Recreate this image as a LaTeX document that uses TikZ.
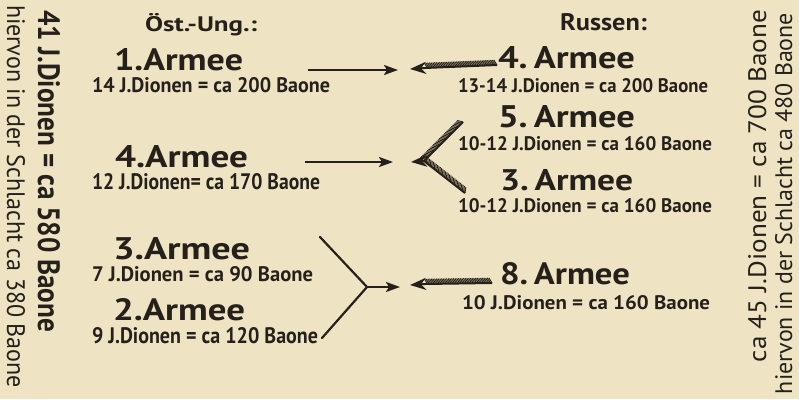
\documentclass[tikz,border=0pt]{standalone}
\usepackage{fontspec}
\setmainfont{PT Sans}
\usepackage{graphicx}
\usetikzlibrary{arrows.meta,decorations.pathreplacing}
\definecolor{paper}{RGB}{238,228,196}
\definecolor{ink}{RGB}{38,32,26}
\newcommand{\fitbox}[3]{\resizebox{#1pt}{#2pt}{#3}}
\begin{document}
\begin{tikzpicture}[x=1pt,y=-1pt,
  txt/.style={inner sep=0pt, outer sep=0pt, text=ink, anchor=base west},
  aarrow/.style={draw=ink, line width=2.2pt, -{Stealth[length=14pt,width=10pt,inset=3pt]}},
  aline/.style={draw=ink, line width=2.2pt, line cap=round},
  rshaft/.style={draw=ink, line width=2pt,
    postaction={draw=ink, line width=0.9pt, decorate,
      decoration={border, segment length=1.7pt, amplitude=6pt, angle=-60}}},
  rhead/.style={draw=ink, line width=2pt, -{Stealth[length=16pt,width=12pt,inset=5pt]}}
]
\fill[paper] (0,0) rectangle (799,399);

% headers
\node[txt] (hl) at (145,31) {\fitbox{112}{18}{\bfseries Öst.-Ung.:}};
\node[txt] (hr) at (560,30) {\fitbox{87}{17}{\bfseries Russen:}};

% left column
\node[txt] (l1) at (114,70) {\fitbox{129}{22}{\bfseries 1.Armee}};
\node[txt] (l1s) at (92,92) {\fitbox{238}{15}{\bfseries 14 J.Dionen = ca 200 Baone}};
\node[txt] (l4) at (115,167) {\fitbox{133}{22}{\bfseries 4.Armee}};
\node[txt] (l4s) at (92,189) {\fitbox{228}{16}{\bfseries 12 J.Dionen= ca 170 Baone}};
\node[txt] (l3) at (113,259) {\fitbox{137}{22}{\bfseries 3.Armee}};
\node[txt] (l3s) at (92,281) {\fitbox{221}{15}{\bfseries 7 J.Dionen = ca 90 Baone}};
\node[txt] (l2) at (113,320) {\fitbox{132}{22}{\bfseries 2.Armee}};
\node[txt] (l2s) at (92,343) {\fitbox{226}{16}{\bfseries 9 J.Dionen = ca 120 Baone}};

% right column
\node[txt] (r4) at (498,68) {\fitbox{137}{22}{\bfseries 4.\,Armee}};
\node[txt] (r4s) at (458,92) {\fitbox{250}{14}{\bfseries 13-14 J.Dionen = ca 200 Baone}};
\node[txt] (r5) at (498,127) {\fitbox{137}{22}{\bfseries 5.\,Armee}};
\node[txt] (r5s) at (458,150) {\fitbox{254}{14}{\bfseries 10-12 J.Dionen = ca 160 Baone}};
\node[txt] (r3) at (500,190) {\fitbox{133}{21}{\bfseries 3.\,Armee}};
\node[txt] (r3s) at (458,212) {\fitbox{254}{14}{\bfseries 10-12 J.Dionen = ca 160 Baone}};
\node[txt] (r8) at (500,284) {\fitbox{130}{22}{\bfseries 8.\,Armee}};
\node[txt] (r8s) at (462,309) {\fitbox{248}{14}{\bfseries 10 J.Dionen = ca 160 Baone}};

% vertical texts
\node[txt, rotate=-90] (vl1) at (38,10) {\fitbox{322}{22}{\bfseries 41 J.Dionen = ca 580 Baone}};
\node[txt, rotate=-90] (vl2) at (7,5) {\fitbox{383}{18}{hiervon in der Schlacht ca 380 Baone}};
\node[txt, rotate=90] (vr1) at (766,362) {\fitbox{352}{18}{ca 45 J.Dionen = ca 700 Baone}};
\node[txt, rotate=90] (vr2) at (792,394) {\fitbox{381}{17}{hiervon in der Schlacht ca 480 Baone}};

% Austrian arrows
\coordinate (a1s) at (308,70); \coordinate (a1e) at (398,70);
\draw[aarrow] (a1s) -- (a1e);
\coordinate (a2s) at (305,162); \coordinate (a2e) at (393,162);
\draw[aarrow] (a2s) -- (a2e);
\coordinate (yu) at (320,237); \coordinate (yl) at (322,338);
\coordinate (yj) at (367,287); \coordinate (ye) at (400,287);
\draw[aline] (yu) -- (yj) -- (yl);
\draw[aarrow] (yj) -- (ye);

% Russian arrows
\coordinate (b1s) at (497,65); \coordinate (b1m) at (425,68); \coordinate (b1e) at (410,69);
\draw[rshaft] (b1s) -- (b1m);
\draw[rhead] (b1m) -- (b1e);
\coordinate (b2u) at (463,122); \coordinate (b2l) at (465,193);
\coordinate (b2m) at (424,161); \coordinate (b2e) at (411,162);
\draw[rshaft] (b2u) -- (b2m);
\draw[rshaft] (b2l) -- (b2m);
\draw[rhead] (b2m) -- (b2e);
\coordinate (b3s) at (492,283); \coordinate (b3m) at (425,284); \coordinate (b3e) at (410,285);
\draw[rshaft] (b3s) -- (b3m);
\draw[rhead] (b3m) -- (b3e);
\end{tikzpicture}
\end{document}
